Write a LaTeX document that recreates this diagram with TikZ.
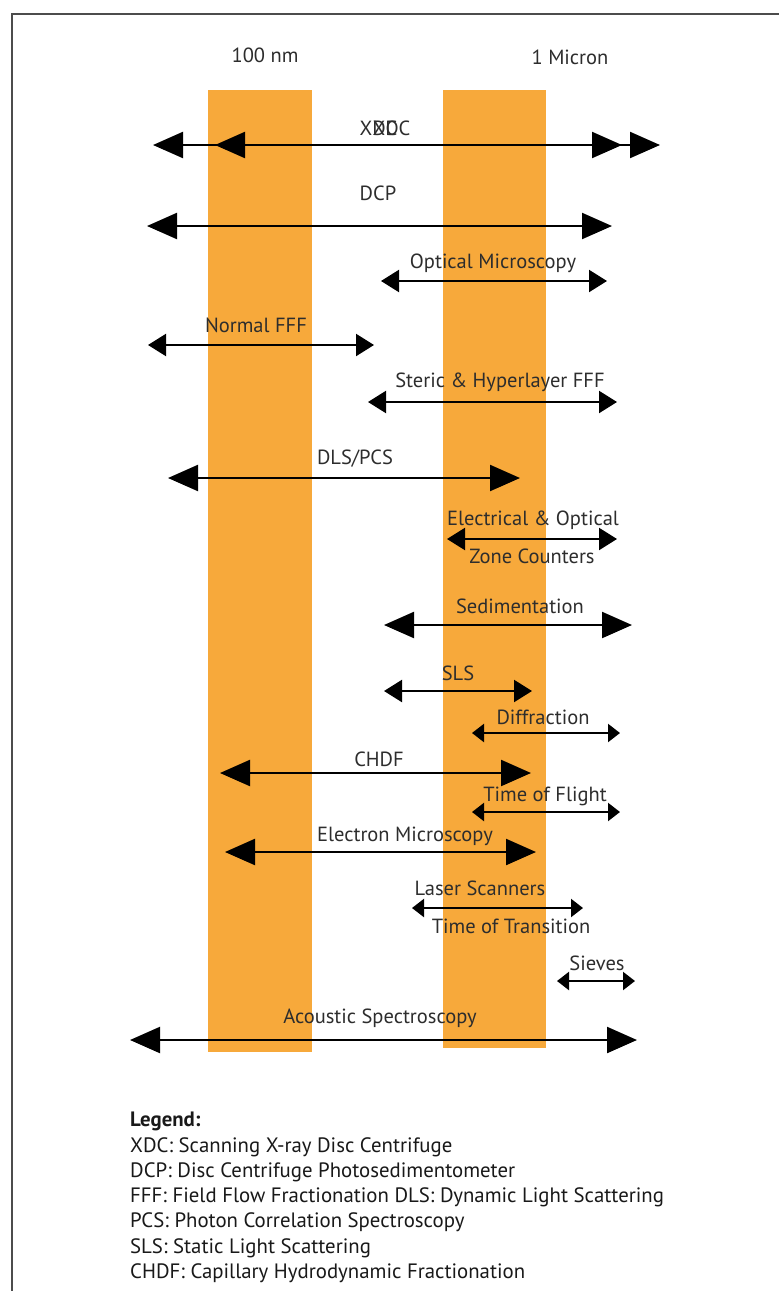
\documentclass[tikz,border=0pt]{standalone}
\usepackage{fontspec}
\setmainfont{PT Sans}
\usetikzlibrary{arrows.meta}
\definecolor{barorange}{RGB}{247,169,59}
\definecolor{labelgray}{RGB}{45,45,45}

\begin{document}
\begin{tikzpicture}[x=1pt, y=-1pt,
	bigrange/.style = {black, line width=2.2pt, {Triangle[length=30pt, width=26pt]}-{Triangle[length=30pt, width=26pt]}},
	midrange/.style = {black, line width=2.2pt, {Triangle[length=18pt, width=22pt]}-{Triangle[length=18pt, width=22pt]}},
	smallrange/.style = {black, line width=2.2pt, {Triangle[length=12pt, width=18pt]}-{Triangle[length=12pt, width=18pt]}},
	rangelabel/.style = {text=labelgray, inner sep=0pt, font=\fontsize{20.5}{22}\selectfont}]
					\useasboundingbox (0, 0) rectangle (779, 1291);
					\fill[white] (0, 0) rectangle (779, 1291);
					\draw[black!70, line width=1.5pt] (12, 1291)--(12, 14)--(779, 14);
					% the two size bands
					\fill[barorange] (208, 90) rectangle (312, 1052);
					\fill[barorange] (443, 90) rectangle (546, 1048);
					\node[rangelabel] (nm) at (265, 55) {100 nm};
					\node[rangelabel] (micron) at (570, 57) {1 Micron};
					% ranges of the methods
					\node[rangelabel] (xdc) at (385, 128) {\rlap{XDC}\hspace{13pt}XDC};
					\coordinate (xdcAl) at (153, 145);
					\coordinate (xdcAr) at (622, 145);
					\coordinate (xdcBl) at (215, 145);
					\coordinate (xdcBr) at (660, 145);
					\draw[bigrange] (xdcAl)--(xdcAr);
					\draw[bigrange] (xdcBl)--(xdcBr);
					\node[rangelabel] (dcp) at (378, 193) {DCP};
					\coordinate (dcpl) at (147, 226);
					\coordinate (dcpr) at (612, 226);
					\draw[bigrange] (dcpl)--(dcpr);
					\node[rangelabel] (om) at (493, 263) {Optical Microscopy};
					\coordinate (oml) at (381, 281);
					\coordinate (omr) at (607, 281);
					\draw[midrange] (oml)--(omr);
					\node[rangelabel] (nfff) at (256, 325) {Normal FFF};
					\coordinate (nfffl) at (148, 345);
					\coordinate (nfffr) at (374, 345);
					\draw[midrange] (nfffl)--(nfffr);
					\node[rangelabel] (shfff) at (500, 382) {Steric \& Hyperlayer FFF};
					\coordinate (shfffl) at (368, 402);
					\coordinate (shfffr) at (617, 402);
					\draw[midrange] (shfffl)--(shfffr);
					\node[rangelabel] (dls) at (355, 459) {DLS/PCS};
					\coordinate (dlsl) at (168, 478);
					\coordinate (dlsr) at (520, 478);
					\draw[bigrange] (dlsl)--(dlsr);
					\node[rangelabel] (zoneA) at (533, 520) {Electrical \& Optical};
					\node[rangelabel] (zoneB) at (532, 556) {Zone Counters};
					\coordinate (zonel) at (447, 539);
					\coordinate (zoner) at (617, 539);
					\draw[midrange] (zonel)--(zoner);
					\node[rangelabel] (sed) at (520, 606) {Sedimentation};
					\coordinate (sedl) at (384, 625);
					\coordinate (sedr) at (632, 625);
					\draw[bigrange] (sedl)--(sedr);
					\node[rangelabel] (sls) at (458, 673) {SLS};
					\coordinate (slsl) at (384, 691);
					\coordinate (slsr) at (532, 691);
					\draw[midrange] (slsl)--(slsr);
					\node[rangelabel] (diff) at (543, 717) {Diffraction};
					\coordinate (diffl) at (472, 733);
					\coordinate (diffr) at (620, 733);
					\draw[smallrange] (diffl)--(diffr);
					\node[rangelabel] (chdf) at (379, 759) {CHDF};
					\coordinate (chdfl) at (220, 773);
					\coordinate (chdfr) at (531, 773);
					\draw[bigrange] (chdfl)--(chdfr);
					\node[rangelabel] (tof) at (545, 796) {Time of Flight};
					\coordinate (tofl) at (472, 812);
					\coordinate (tofr) at (620, 812);
					\draw[smallrange] (tofl)--(tofr);
					\node[rangelabel] (em) at (405, 836) {Electron Microscopy};
					\coordinate (eml) at (225, 852);
					\coordinate (emr) at (536, 852);
					\draw[bigrange] (eml)--(emr);
					\node[rangelabel] (laserA) at (480, 888) {Laser Scanners};
					\node[rangelabel] (laserB) at (511, 926) {Time of Transition};
					\coordinate (laserl) at (412, 908);
					\coordinate (laserr) at (583, 908);
					\draw[smallrange] (laserl)--(laserr);
					\node[rangelabel] (sieve) at (597, 963) {Sieves};
					\coordinate (sievel) at (557, 981);
					\coordinate (siever) at (635, 981);
					\draw[smallrange] (sievel)--(siever);
					\node[rangelabel] (acou) at (380, 1018) {Acoustic Spectroscopy};
					\coordinate (acoul) at (130, 1040);
					\coordinate (acour) at (637, 1040);
					\draw[bigrange] (acoul)--(acour);
					% legend
					\node[rangelabel, anchor = north west, align = left, text = black!90, font = \fontsize{20.8}{25.3}\selectfont] (legend) at (130, 1112)
						{\textbf{Legend:}\\
						XDC: Scanning X-ray Disc Centrifuge\\
						DCP: Disc Centrifuge Photosedimentometer\\
						FFF: Field Flow Fractionation DLS: Dynamic Light Scattering\\
						PCS: Photon Correlation Spectroscopy\\
						SLS: Static Light Scattering\\
						CHDF: Capillary Hydrodynamic Fractionation};
				\end{tikzpicture}
\end{document}
